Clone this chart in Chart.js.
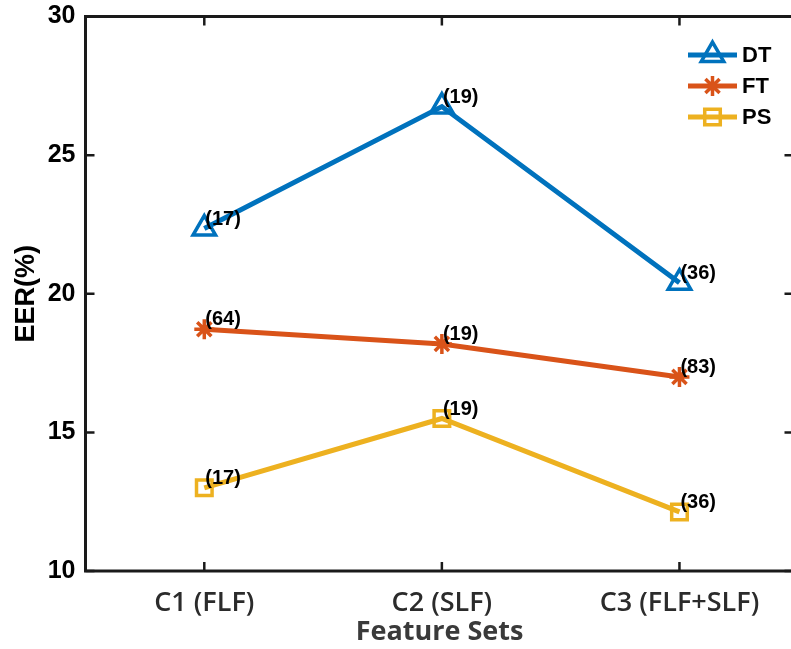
<!DOCTYPE html>
<html>
<head>
<meta charset="utf-8">
<script src="https://cdn.jsdelivr.net/npm/chart.js@4/dist/chart.umd.min.js"></script>
<style>
  html, body { margin: 0; padding: 0; background: #fff; overflow: hidden; }
  #wrap { width: 810px; height: 649px; }
</style>
</head>
<body>
<div id="wrap"><canvas id="c" width="810" height="649"></canvas></div>
<script>
// Feature sets on the x axis
const categories = ['C1 (FLF)', 'C2 (SLF)', 'C3 (FLF+SLF)'];
const seriesNames = ['DT', 'FT', 'PS'];

// EER (%) per feature set
const dtValues = [22.35, 26.75, 20.4];
const ftValues = [18.72, 18.19, 17.0];
const psValues = [13.0, 15.5, 12.13];

// Annotations printed next to each point
const dtNotes = ['(17)', '(19)', '(36)'];
const ftNotes = ['(64)', '(19)', '(83)'];
const psNotes = ['(17)', '(19)', '(36)'];

// Y axis tick values
const yTicks = [10, 15, 20, 25, 30];

const COLORS = ['#0072BD', '#D95319', '#EDB120'];
const STYLES = [
  { pointStyle: 'triangle', radius: 13 },
  { pointStyle: 'star', radius: 10 },
  { pointStyle: 'rect', radius: 11 }
];

const allValues = [dtValues, ftValues, psValues];
const allNotes = [dtNotes, ftNotes, psNotes];

const datasets = allValues.map((vals, i) => ({
  label: seriesNames[i],
  data: vals.map((v, k) => ({ x: k + 1, y: v })),
  notes: allNotes[i],
  borderColor: COLORS[i],
  borderWidth: 5,
  pointStyle: STYLES[i].pointStyle,
  pointRadius: STYLES[i].radius,
  pointHoverRadius: STYLES[i].radius,
  pointBorderWidth: 3.5,
  pointBorderColor: COLORS[i],
  pointBackgroundColor: 'rgba(0,0,0,0)',
  tension: 0,
  fill: false
}));

// Axes box with inward ticks, point annotations and the legend
const decorations = {
  id: 'decorations',
  afterDatasetsDraw(chart) {
    const ctx = chart.ctx;
    const a = chart.chartArea;
    const xs = chart.scales.x, ys = chart.scales.y;
    ctx.save();
    ctx.strokeStyle = '#1a1a1a';
    ctx.lineWidth = 3;
    ctx.strokeRect(a.left, a.top, a.right - a.left, a.bottom - a.top);
    ctx.lineWidth = 2.5;
    const tl = 9;
    ctx.beginPath();
    yTicks.forEach(v => {
      const y = ys.getPixelForValue(v);
      ctx.moveTo(a.left, y); ctx.lineTo(a.left + tl, y);
      ctx.moveTo(a.right, y); ctx.lineTo(a.right - tl, y);
    });
    categories.forEach((c, k) => {
      const x = xs.getPixelForValue(k + 1);
      ctx.moveTo(x, a.bottom); ctx.lineTo(x, a.bottom - tl);
      ctx.moveTo(x, a.top); ctx.lineTo(x, a.top + tl);
    });
    ctx.stroke();

    // annotations
    ctx.fillStyle = '#000';
    ctx.font = 'bold 20px "Liberation Sans", Arial, sans-serif';
    ctx.textAlign = 'left';
    ctx.textBaseline = 'alphabetic';
    chart.data.datasets.forEach((ds, i) => {
      const meta = chart.getDatasetMeta(i);
      meta.data.forEach((pt, k) => {
        ctx.fillText(ds.notes[k], pt.x + 1, pt.y - 4);
      });
    });

    // legend
    chart.data.datasets.forEach((ds, i) => {
      const y = 55 + i * 31;
      ctx.strokeStyle = ds.borderColor;
      ctx.lineWidth = 5;
      ctx.beginPath();
      ctx.moveTo(688, y); ctx.lineTo(737, y);
      ctx.stroke();
      ctx.lineWidth = 3.5;
      ctx.fillStyle = 'rgba(0,0,0,0)';
      Chart.helpers.drawPoint(ctx, {
        pointStyle: ds.pointStyle, radius: ds.pointRadius, rotation: 0, borderWidth: 3.5
      }, 712.5, y);
      ctx.fillStyle = '#000';
      ctx.font = 'bold 22px "Liberation Sans", Arial, sans-serif';
      ctx.textBaseline = 'middle';
      ctx.fillText(ds.label, 742, y + 1);
    });
    ctx.restore();
  }
};

new Chart(document.getElementById('c'), {
  type: 'line',
  data: { datasets },
  options: {
    responsive: false,
    animation: false,
    layout: { padding: { top: 15, right: 13, left: 0, bottom: 0 } },
    plugins: { legend: { display: false }, tooltip: { enabled: false } },
    scales: {
      x: {
        type: 'linear',
        min: 0.5,
        max: 3.48,
        afterBuildTicks: s => { s.ticks = categories.map((c, k) => ({ value: k + 1 })); },
        afterFit: s => { s.height = 78; s.paddingLeft = 0; s.paddingRight = 0; },
        grid: { display: false, drawTicks: false },
        border: { display: false },
        ticks: {
          autoSkip: false,
          maxRotation: 0,
          padding: 16,
          color: '#2b2b2b',
          font: { family: '"Open Sans", sans-serif', size: 27, weight: '600' },
          callback: v => categories[v - 1]
        },
        title: {
          display: true,
          text: 'Feature Sets',
          color: '#3a3a3a',
          padding: { top: 0, bottom: 0 },
          font: { family: '"Open Sans", sans-serif', size: 27, weight: 'bold' }
        }
      },
      y: {
        min: 10,
        max: 30,
        afterBuildTicks: s => { s.ticks = yTicks.map(v => ({ value: v })); },
        afterFit: s => { s.width = 85.5; s.paddingTop = 0; s.paddingBottom = 0; },
        grid: { display: false, drawTicks: false },
        border: { display: false },
        ticks: {
          padding: 10,
          color: '#000',
          font: { family: '"Liberation Sans", Arial, sans-serif', size: 25, weight: 'bold' }
        },
        title: {
          display: true,
          text: 'EER(%)',
          color: '#000',
          padding: { top: 10, bottom: 0 },
          font: { family: '"Liberation Sans", Arial, sans-serif', size: 27, weight: 'bold' }
        }
      }
    }
  },
  plugins: [decorations]
});
</script>
</body>
</html>
